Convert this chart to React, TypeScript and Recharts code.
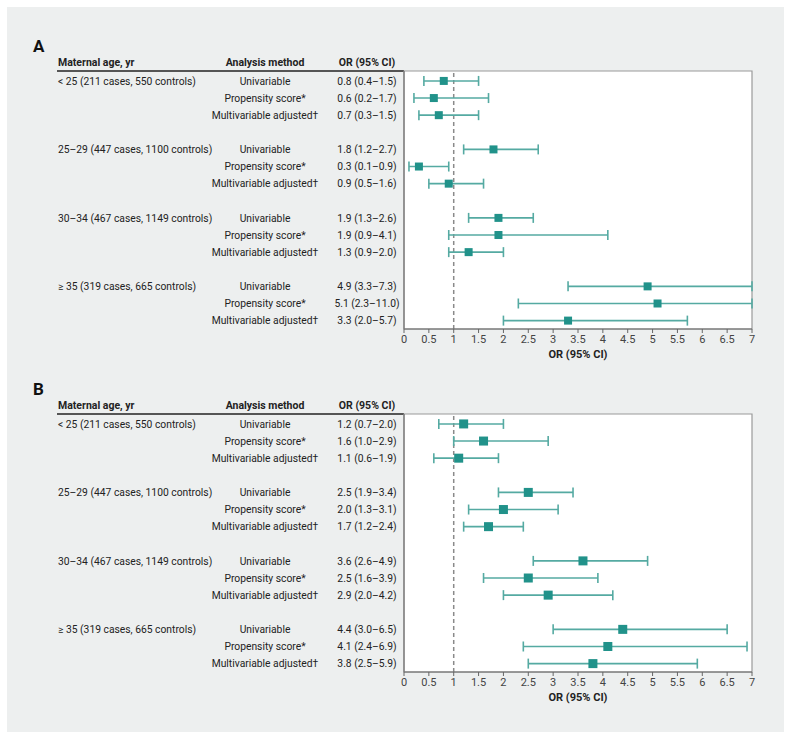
import {
  ComposedChart,
  Scatter,
  ErrorBar,
  XAxis,
  YAxis,
  CartesianGrid,
  ReferenceLine,
  ReferenceArea,
} from "recharts";

const groups = [
  "< 25 (211 cases, 550 controls)",
  "25–29 (447 cases, 1100 controls)",
  "30–34 (467 cases, 1149 controls)",
  "≥ 35 (319 cases, 665 controls)",
];
const methods = ["Univariable", "Propensity score*", "Multivariable adjusted†"];

const orA = [0.8, 0.6, 0.7, 1.8, 0.3, 0.9, 1.9, 1.9, 1.3, 4.9, 5.1, 3.3];
const loA = [0.4, 0.2, 0.3, 1.2, 0.1, 0.5, 1.3, 0.9, 0.9, 3.3, 2.3, 2.0];
const hiA = [1.5, 1.7, 1.5, 2.7, 0.9, 1.6, 2.6, 4.1, 2.0, 7.3, 11.0, 5.7];

const orB = [1.2, 1.6, 1.1, 2.5, 2.0, 1.7, 3.6, 2.5, 2.9, 4.4, 4.1, 3.8];
const loB = [0.7, 1.0, 0.6, 1.9, 1.3, 1.2, 2.6, 1.6, 2.0, 3.0, 2.4, 2.5];
const hiB = [2.0, 2.9, 1.9, 3.4, 3.1, 2.4, 4.9, 3.9, 4.2, 6.5, 6.9, 5.9];

const xTicks = [0, 0.5, 1, 1.5, 2, 2.5, 3, 3.5, 4, 4.5, 5, 5.5, 6, 6.5, 7];
const X_MAX = 7;
const Y_DOMAIN = [-0.58, 14.49];

const TEAL = "#21928a";
const WHISKER = "#55aaa2";
const TEXT = "#222";

const buildRows = (or: number[], lo: number[], hi: number[]) =>
  or.map((v, i) => {
    const g = Math.floor(i / 3);
    const m = i % 3;
    return {
      slot: g * 4 + m,
      or: v,
      lo: lo[i],
      hi: hi[i],
      group: m === 0 ? groups[g] : "",
      method: methods[m],
      label: `${v.toFixed(1)} (${lo[i].toFixed(1)}–${hi[i].toFixed(1)})`,
      err: [v - lo[i], Math.min(hi[i], X_MAX) - v],
    };
  });

const Forest = ({
  letter,
  or,
  lo,
  hi,
  top,
  box,
}: {
  letter: string;
  or: number[];
  lo: number[];
  hi: number[];
  top: number;
  box: number;
}) => {
  const rows = buildRows(or, lo, hi);
  const slots = rows.map((r) => r.slot);

  const RowTick = (props: any) => {
    const { y, payload } = props;
    const r = rows.find((d) => d.slot === payload.value);
    if (!r) return null;
    return (
      <g fontSize={10.3} fill={TEXT}>
        {r.group && (
          <text x={58} y={y} dy="0.36em" textAnchor="start">
            {r.group}
          </text>
        )}
        <text x={265} y={y} dy="0.36em" textAnchor="middle">
          {r.method}
        </text>
        <text x={367} y={y} dy="0.36em" textAnchor="middle">
          {r.label}
        </text>
      </g>
    );
  };

  const Square = (p: any) => (
    <rect x={p.cx - box / 2} y={p.cy - box / 2} width={box} height={box} fill={TEAL} />
  );

  return (
    <div style={{ position: "absolute", left: 0, top, width: 791, height: 372 }}>
      <div
        style={{
          position: "absolute",
          left: 33,
          top: 35,
          fontSize: 17,
          fontWeight: 700,
          color: "#111",
          lineHeight: "22px",
        }}
      >
        {letter}
      </div>
      <div
        style={{
          position: "absolute",
          top: 56,
          left: 0,
          width: 791,
          fontSize: 10.5,
          fontWeight: 700,
          color: TEXT,
          lineHeight: "14px",
        }}
      >
        <span style={{ position: "absolute", left: 58 }}>Maternal age, yr</span>
        <span style={{ position: "absolute", left: 205, width: 120, textAlign: "center" }}>
          Analysis method
        </span>
        <span style={{ position: "absolute", left: 317, width: 100, textAlign: "center" }}>
          OR (95% CI)
        </span>
      </div>
      <div
        style={{
          position: "absolute",
          left: 57,
          top: 70,
          width: 347,
          height: 1.5,
          background: "#555",
        }}
      />
      <ComposedChart
        width={791}
        height={372}
        data={rows}
        margin={{ top: 71, right: 39, bottom: 13, left: 0 }}
        style={{ position: "absolute", left: 0, top: 0 }}
      >
        <CartesianGrid fill="#fff" horizontal={false} vertical={false} />
        <ReferenceArea
          x1={0}
          x2={X_MAX}
          y1={Y_DOMAIN[0]}
          y2={Y_DOMAIN[1]}
          fill="none"
          stroke="#9a9a9a"
          strokeWidth={1.2}
        />
        <XAxis
          type="number"
          dataKey="or"
          domain={[0, X_MAX]}
          ticks={xTicks}
          allowDataOverflow
          height={30}
          tickSize={4}
          tick={{ fontSize: 11, fill: "#444" }}
          axisLine={{ stroke: "#666", strokeWidth: 1.2 }}
          tickLine={{ stroke: "#666" }}
          label={{
            value: "OR (95% CI)",
            position: "insideBottom",
            offset: 1,
            style: { fontSize: 11, fontWeight: 700, fill: TEXT },
          }}
        />
        <YAxis
          type="number"
          dataKey="slot"
          reversed
          domain={Y_DOMAIN}
          ticks={slots}
          interval={0}
          width={404}
          tickLine={false}
          axisLine={{ stroke: "#777", strokeWidth: 1.2 }}
          tick={<RowTick />}
        />
        <ReferenceLine x={1} stroke="#8a8a8a" strokeWidth={1.5} strokeDasharray="4 3" />
        <Scatter dataKey="slot" shape={<Square />} isAnimationActive={false}>
          <ErrorBar
            dataKey="err"
            direction="x"
            width={5}
            stroke={WHISKER}
            strokeWidth={1.6}
            isAnimationActive={false}
          />
        </Scatter>
      </ComposedChart>
    </div>
  );
};

export default function App() {
  return (
    <div
      style={{
        position: "absolute",
        left: 0,
        top: 0,
        width: 791,
        height: 739,
        background: "#fff",
        fontFamily: "Roboto, sans-serif",
      }}
    >
      <div
        style={{
          position: "absolute",
          left: 7,
          top: 7,
          width: 777,
          height: 725,
          background: "#edefef",
        }}
      />
      <Forest letter="A" or={orA} lo={loA} hi={hiA} top={0} box={8} />
      <Forest letter="B" or={orB} lo={loB} hi={hiB} top={343} box={9} />
    </div>
  );
}
